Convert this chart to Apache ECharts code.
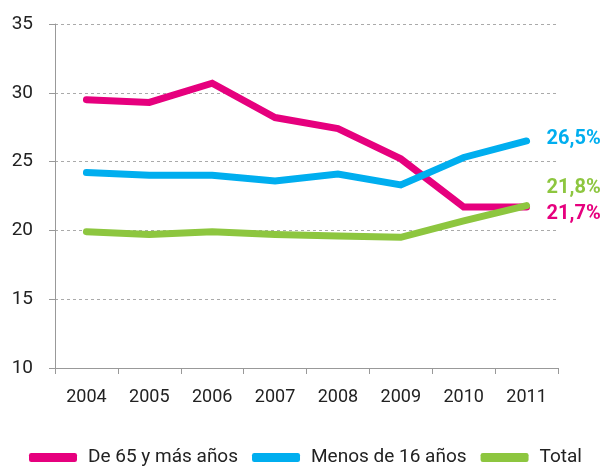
<!DOCTYPE html>
<html>
<head>
<meta charset="utf-8">
<script src="https://cdn.jsdelivr.net/npm/echarts@6/dist/echarts.min.js"></script>
<style>
  html, body { margin: 0; padding: 0; background: #fff; }
  #chart { width: 602px; height: 470px; }
</style>
</head>
<body>
<div id="chart"></div>
<script>
  // datos
  const years = ['2004', '2005', '2006', '2007', '2008', '2009', '2010', '2011'];
  const mayores65 = [29.5, 29.3, 30.7, 28.2, 27.4, 25.2, 21.7, 21.7];
  const menores16 = [24.2, 24.0, 24.0, 23.6, 24.1, 23.3, 25.3, 26.5];
  const total = [19.9, 19.7, 19.9, 19.7, 19.6, 19.5, 20.7, 21.8];
  const yTicks = [10, 15, 20, 25, 30, 35];

  const font = '"Roboto", sans-serif';

  function linea(name, data, color, offset) {
    return {
      name: name,
      type: 'line',
      data: data,
      symbol: 'none',
      lineStyle: { width: 7, color: color, cap: 'round', join: 'miter' },
      itemStyle: { color: color },
      endLabel: {
        show: true,
        formatter: p => p.value.toFixed(1).replace('.', ',') + '%',
        color: color,
        fontFamily: font,
        fontWeight: 'bold',
        fontSize: 20,
        distance: 20,
        offset: offset
      }
    };
  }

  const chart = echarts.init(document.getElementById('chart'));
  chart.setOption({
    animation: false,
    textStyle: { fontFamily: font },
    grid: { left: 55, right: 44, top: 24, bottom: 102 },
    legend: {
      bottom: -2,
      left: 24,
      itemGap: 14,
      itemWidth: 48,
      itemHeight: 9,
      icon: 'roundRect',
      textStyle: { fontSize: 19, color: '#222', fontFamily: font, padding: [0, 0, 0, 6] },
      data: ['De 65 y más años', 'Menos de 16 años', 'Total']
    },
    xAxis: {
      type: 'category',
      data: years,
      boundaryGap: true,
      axisLine: { lineStyle: { color: '#999', width: 1 } },
      axisTick: { show: true, length: 6, lineStyle: { color: '#999' } },
      axisLabel: { fontSize: 18, color: '#222', margin: 20 }
    },
    yAxis: {
      type: 'value',
      min: yTicks[0],
      max: yTicks[yTicks.length - 1],
      interval: 5,
      axisLine: { show: true, lineStyle: { color: '#999', width: 1 } },
      axisTick: { show: true, length: 6, lineStyle: { color: '#999' } },
      axisLabel: { fontSize: 19, color: '#222', margin: 22 },
      splitLine: { lineStyle: { color: '#aaa', type: [3, 3], width: 1 } }
    },
    series: [
      linea('De 65 y más años', mayores65, '#e6007e', [0, 7]),
      linea('Menos de 16 años', menores16, '#00aeef', [0, -2]),
      linea('Total', total, '#8dc63f', [0, -18])
    ]
  });
</script>
</body>
</html>
